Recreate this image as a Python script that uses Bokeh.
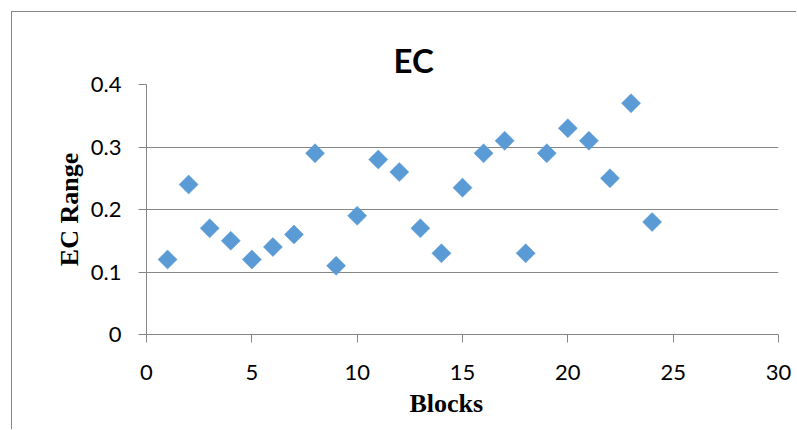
import math

from bokeh.embed import file_html
from bokeh.models import FixedTicker, Range1d, Title
from bokeh.plotting import figure
from bokeh.resources import INLINE

# EC range measured for each block
blocks = [1, 2, 3, 4, 5, 6, 7, 8, 9, 10, 11, 12,
          13, 14, 15, 16, 17, 18, 19, 20, 21, 22, 23, 24]
ec_range = [0.12, 0.24, 0.17, 0.15, 0.12, 0.14, 0.16, 0.29, 0.11, 0.19, 0.28, 0.26,
            0.17, 0.13, 0.235, 0.29, 0.31, 0.13, 0.29, 0.33, 0.31, 0.25, 0.37, 0.18]

x_ticks = [0, 5, 10, 15, 20, 25, 30]
y_ticks = [0, 0.1, 0.2, 0.3, 0.4]
y_tick_labels = ["0", "0.1", "0.2", "0.3", "0.4"]

title_text = "EC"
x_label = "Blocks"
y_label = "EC Range"

GRID = "#868686"
MARKER = "#5B9BD5"
TICK_FONT = "Lato"
LABEL_FONT = "Liberation Serif"

p = figure(
    width=785, height=418,
    x_range=Range1d(0, 30), y_range=Range1d(0, 0.4),
    output_backend="svg", toolbar_location=None,
    min_border_left=134, min_border_right=19,
    min_border_top=72, min_border_bottom=96,
)
# chart area border (left and top edges visible in the window)
p.styles = {
    "margin-left": "11px", "margin-top": "11px",
    "border-left": f"1px solid {GRID}", "border-top": f"1px solid {GRID}",
}
p.background_fill_color = "white"
p.border_fill_color = "white"
p.outline_line_color = None

# chart title
p.title.text = title_text
p.title.align = "left"
p.title.offset = 247
p.title.standoff = 8
p.title.vertical_align = "middle"
p.title.text_font = TICK_FONT
p.title.text_font_style = "bold"
p.title.text_font_size = "33px"
p.title.text_color = "black"

# axes
p.xaxis.ticker = FixedTicker(ticks=x_ticks)
p.yaxis.ticker = FixedTicker(ticks=y_ticks)
p.yaxis.major_label_overrides = dict(zip(y_ticks, y_tick_labels))
for ax in (p.xaxis, p.yaxis):
    ax.axis_line_color = GRID
    ax.major_tick_line_color = GRID
    ax.major_tick_out = 8
    ax.major_tick_in = 0
    ax.minor_tick_line_color = None
    ax.major_label_text_font = TICK_FONT
    ax.major_label_text_font_size = "22px"
    ax.major_label_text_color = "black"
p.yaxis.major_label_standoff = 17
p.xaxis.major_label_standoff = 22

# axis titles
p.add_layout(Title(text=x_label, align="left", offset=263, standoff=8,
                   text_font=LABEL_FONT, text_font_style="bold",
                   text_font_size="26px", text_color="black"), "below")
p.add_layout(Title(text=y_label, align="center", standoff=7,
                   text_font=LABEL_FONT, text_font_style="bold",
                   text_font_size="26px", text_color="black"), "left")

# grid: horizontal lines only
p.xgrid.grid_line_color = None
p.ygrid.grid_line_color = GRID
p.ygrid.grid_line_width = 1

# diamonds drawn as rotated squares
p.scatter(blocks, ec_range, marker="square", size=13.5, angle=math.pi / 4,
          fill_color=MARKER, line_color=MARKER, line_width=0.5)

open("out.html", "w").write(file_html(p, INLINE))
